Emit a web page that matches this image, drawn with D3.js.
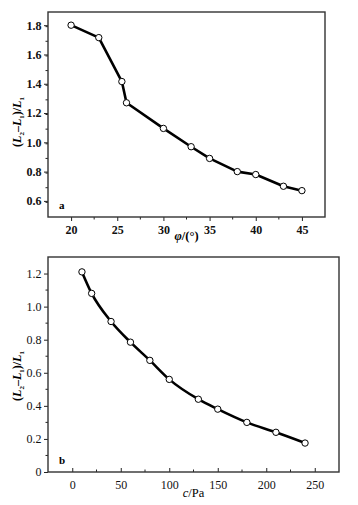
<!DOCTYPE html>
<html><head><meta charset="utf-8">
<script src="https://cdn.jsdelivr.net/npm/d3@7"></script>
<style>body{margin:0;background:#fff}svg{display:block}
svg text{font-family:"Liberation Serif","Times New Roman",Times,"DejaVu Serif",serif !important}</style>
</head><body>
<script>
// Panel a data
const phiValues = [20, 23, 25.5, 26, 30, 33, 35, 38, 40, 43, 45];
const ratioA = [1.80, 1.715, 1.415, 1.27, 1.095, 0.97, 0.89, 0.80, 0.78, 0.70, 0.67];
const xTicksA = [20, 25, 30, 35, 40, 45];
const yTicksA = [0.6, 0.8, 1.0, 1.2, 1.4, 1.6, 1.8];
// Panel b data
const cValues = [10, 20, 40, 60, 80, 100, 130, 150, 180, 210, 240];
const ratioB = [1.21, 1.08, 0.91, 0.785, 0.675, 0.56, 0.44, 0.38, 0.30, 0.24, 0.175];
const xTicksB = [0, 50, 100, 150, 200, 250];
const yTicksB = [0, 0.2, 0.4, 0.6, 0.8, 1.0, 1.2];

const W = 358, H = 505;
const svg = d3.select("body").append("svg").attr("width", W).attr("height", H);

function panel(o) {
  const x = d3.scaleLinear().domain(o.xDomain).range([o.left, o.right]);
  const y = d3.scaleLinear().domain(o.yDomain).range([o.bottom, o.top]);
  const g = svg.append("g");
  const xOut = o.xOut;
  const xMinor = d3.range(o.xDomain[0], o.xDomain[1] + 1e-9, o.xMinorStep)
    .filter(v => v > o.xDomain[0] + 1e-9 && v < o.xDomain[1] - 1e-9 && !o.xTicks.some(t => Math.abs(t - v) < 1e-9));
  const yMinor = d3.range(o.yDomain[0], o.yDomain[1] + 1e-9, o.yMinorStep)
    .map(v => Math.round(v * 1000) / 1000)
    .filter(v => v > o.yDomain[0] + 1e-9 && v < o.yDomain[1] - 1e-9 && !o.yTicks.some(t => Math.abs(t - v) < 1e-9));
  g.selectAll(".xm").data(xMinor).join("line")
    .attr("x1", d => x(d)).attr("x2", d => x(d))
    .attr("y1", o.bottom).attr("y2", o.bottom + (xOut ? 2.5 : -2.5))
    .attr("stroke", "#222").attr("stroke-width", 1);
  g.selectAll(".ym").data(yMinor).join("line")
    .attr("x1", o.left).attr("x2", o.left - 2.5)
    .attr("y1", d => y(d)).attr("y2", d => y(d))
    .attr("stroke", "#222").attr("stroke-width", 1);
  const xAxis = d3.axisBottom(x).tickValues(o.xTicks).tickFormat(d3.format("d"))
    .tickSizeInner(xOut ? 4 : -4).tickSizeOuter(0).tickPadding(xOut ? 4 : 8);
  const gx = g.append("g").attr("transform", `translate(0,${o.bottom})`).call(xAxis);
  const yAxis = d3.axisLeft(y).tickValues(o.yTicks).tickFormat(o.yFmt)
    .tickSizeInner(4).tickSizeOuter(0).tickPadding(2.5);
  const gy = g.append("g").attr("transform", `translate(${o.left},0)`).call(yAxis);
  [gx, gy].forEach(a => {
    a.attr("font-family", null);
    a.select(".domain").remove();
    a.selectAll(".tick line").attr("stroke", "#222").attr("stroke-width", 1);
    a.selectAll(".tick text").attr("fill", "#111")
      .style("font-size", o.tickFont + "px").style("font-weight", o.tickWeight);
  });
  g.append("rect").attr("x", o.left).attr("y", o.top)
    .attr("width", o.right - o.left).attr("height", o.bottom - o.top)
    .attr("fill", "none").attr("stroke", "#333").attr("stroke-width", 1.4);
  const pts = o.xs.map((v, i) => [v, o.ys[i]]);
  g.append("path").datum(pts)
    .attr("d", d3.line().x(d => x(d[0])).y(d => y(d[1])).curve(o.curve))
    .attr("fill", "none").attr("stroke", "#000").attr("stroke-width", 2.6)
    .attr("stroke-linejoin", "round");
  g.selectAll(".pt").data(pts).join("circle")
    .attr("cx", d => x(d[0])).attr("cy", d => y(d[1])).attr("r", 3.2)
    .attr("fill", "#fff").attr("stroke", "#000").attr("stroke-width", 1);
  g.append("text").attr("x", o.left + 11).attr("y", o.bottom - 8)
    .style("font-size", "11px").style("font-weight", "bold").text(o.letter);
  const xl = g.append("text").attr("x", (o.left + o.right) / 2).attr("y", o.xLabelY)
    .attr("text-anchor", "middle").style("font-size", "12.5px").style("font-weight", o.labelWeight);
  o.xLabel(xl);
  const cy = o.yLabelCY;
  const yl = g.append("text").attr("transform", `translate(21,${cy}) rotate(-90)`)
    .attr("text-anchor", "middle").style("font-size", "12px").style("font-weight", "bold");
  yl.append("tspan").text("(");
  yl.append("tspan").style("font-style", "italic").text("L");
  yl.append("tspan").attr("dy", 3).style("font-size", "7px").text("2");
  yl.append("tspan").attr("dy", -3).text("\u2013");
  yl.append("tspan").style("font-style", "italic").text("L");
  yl.append("tspan").attr("dy", 3).style("font-size", "7px").text("1");
  yl.append("tspan").attr("dy", -3).text(")/");
  yl.append("tspan").style("font-style", "italic").text("L");
  yl.append("tspan").attr("dy", 3).style("font-size", "7px").text("1");
}

panel({
  left: 48, right: 325, top: 12, bottom: 217,
  xDomain: [17.5, 47.5], yDomain: [0.49, 1.89],
  xTicks: xTicksA, yTicks: yTicksA, xMinorStep: 2.5, yMinorStep: 0.1,
  yFmt: d3.format(".1f"), xOut: true, tickFont: 12, tickWeight: "bold",
  xs: phiValues, ys: ratioA, curve: d3.curveLinear, letter: "a",
  xLabelY: 240, labelWeight: "bold", yLabelCY: 122,
  xLabel: t => { t.append("tspan").style("font-style", "italic").text("\u03c6"); t.append("tspan").text("/(\u00b0)"); }
});

panel({
  left: 48, right: 339, top: 257, bottom: 472,
  xDomain: [-25, 275], yDomain: [0, 1.3],
  xTicks: xTicksB, yTicks: yTicksB, xMinorStep: 25, yMinorStep: 0.1,
  yFmt: d => d === 0 ? "0" : d3.format(".1f")(d), xOut: false, tickFont: 12, tickWeight: "normal",
  xs: cValues, ys: ratioB, curve: d3.curveMonotoneX, letter: "b",
  xLabelY: 497, labelWeight: "normal", yLabelCY: 376,
  xLabel: t => { t.append("tspan").style("font-style", "italic").text("c"); t.append("tspan").text("/Pa"); }
});
</script>
</body></html>
